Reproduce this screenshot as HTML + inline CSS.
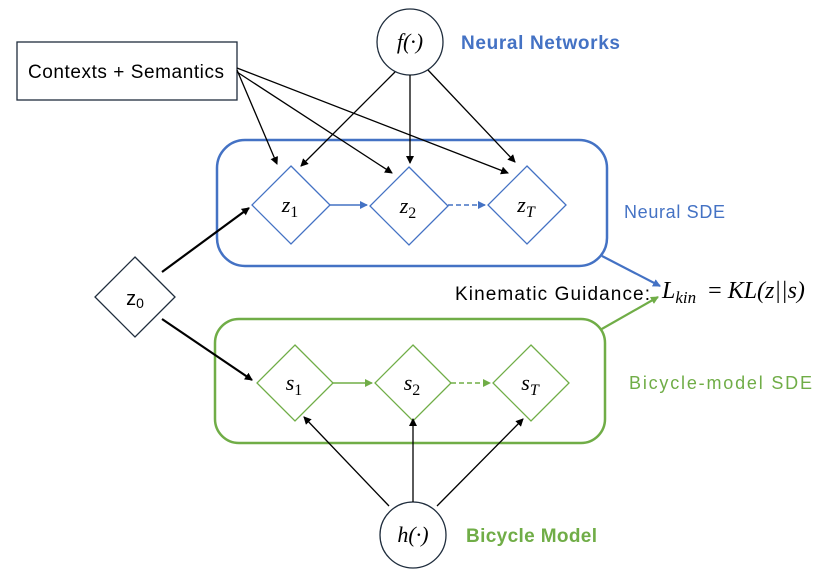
<!DOCTYPE html>
<html><head><style>body{margin:0;background:#fff}svg{display:block}</style></head><body>
<svg width="830" height="575" viewBox="0 0 830 575" xmlns="http://www.w3.org/2000/svg">
<defs>
<marker id="ak" markerWidth="8" markerHeight="8" refX="7" refY="4" orient="auto" markerUnits="userSpaceOnUse"><path d="M0,0 L8,4 L0,8 z" fill="#000"/></marker>
<marker id="ab" markerWidth="8" markerHeight="8" refX="7" refY="4" orient="auto" markerUnits="userSpaceOnUse"><path d="M0,0 L8,4 L0,8 z" fill="#4472c4"/></marker>
<marker id="ag" markerWidth="8" markerHeight="8" refX="7" refY="4" orient="auto" markerUnits="userSpaceOnUse"><path d="M0,0 L8,4 L0,8 z" fill="#70ad47"/></marker>
</defs>
<g font-family="Liberation Sans, sans-serif">
<rect x="217" y="140" width="390" height="126" rx="28" fill="none" stroke="#4472c4" stroke-width="2.5"/>
<rect x="215" y="319" width="390" height="124" rx="24" fill="none" stroke="#70ad47" stroke-width="2.5"/>
<rect x="17" y="42" width="220" height="58" fill="#fff" stroke="#1f2d3d" stroke-width="1.3"/>
<text x="126" y="78" font-size="19" text-anchor="middle" textLength="196">Contexts + Semantics</text>
<circle cx="410" cy="42" r="33" fill="#fff" stroke="#1f2d3d" stroke-width="1.3"/>
<text x="410" y="49" font-size="22" text-anchor="middle" font-family="Liberation Serif, serif" font-style="italic">f(·)</text>
<circle cx="413" cy="535" r="33" fill="#fff" stroke="#1f2d3d" stroke-width="1.3"/>
<text x="413" y="542" font-size="22" text-anchor="middle" font-family="Liberation Serif, serif" font-style="italic">h(·)</text>
<text x="461" y="49" font-size="19" font-weight="bold" fill="#4472c4" textLength="159">Neural Networks</text>
<text x="466" y="542" font-size="19" font-weight="bold" fill="#70ad47" textLength="131">Bicycle Model</text>
<text x="624" y="218" font-size="18" fill="#4472c4" textLength="101">Neural SDE</text>
<text x="629" y="389" font-size="18" fill="#70ad47" textLength="183">Bicycle-model SDE</text>
<g fill="#fff" stroke="#4472c4" stroke-width="1.3">
<path d="M291,166 L330,205 L291,244 L252,205z"/>
<path d="M409,167 L448,206 L409,245 L370,206z"/>
<path d="M527,166 L566,205 L527,244 L488,205z"/>
</g>
<g fill="#fff" stroke="#70ad47" stroke-width="1.3">
<path d="M295,345 L333,383 L295,421 L257,383z"/>
<path d="M413,345 L451,383 L413,421 L375,383z"/>
<path d="M531,345 L569,383 L531,421 L493,383z"/>
</g>
<path d="M135,257 L175,297 L135,337 L95,297z" fill="#fff" stroke="#1f2d3d" stroke-width="1.3"/>
<text x="135" y="305" font-size="20" text-anchor="middle">z<tspan font-size="14" dy="3">0</tspan></text>
<g font-family="Liberation Serif, serif" font-style="italic" font-size="22" text-anchor="middle">
<text x="290" y="212">z<tspan font-size="16" dy="5" font-style="normal">1</tspan></text>
<text x="408" y="213">z<tspan font-size="16" dy="5" font-style="normal">2</tspan></text>
<text x="526" y="212">z<tspan font-size="16" dy="5">T</tspan></text>
<text x="294" y="390">s<tspan font-size="16" dy="5" font-style="normal">1</tspan></text>
<text x="412" y="390">s<tspan font-size="16" dy="5" font-style="normal">2</tspan></text>
<text x="530" y="390">s<tspan font-size="16" dy="5">T</tspan></text>
</g>
<g stroke="#000" stroke-width="1.3" marker-end="url(#ak)">
<line x1="237" y1="70" x2="277" y2="164"/>
<line x1="237" y1="72" x2="392" y2="173"/>
<line x1="237" y1="68" x2="508" y2="173"/>
<line x1="395" y1="72" x2="301" y2="166"/>
<line x1="410" y1="75" x2="410" y2="163"/>
<line x1="428" y1="70" x2="515" y2="162"/>
<line x1="389" y1="506" x2="304" y2="417"/>
<line x1="413" y1="502" x2="413" y2="419"/>
<line x1="437" y1="506" x2="523" y2="419"/>
</g>
<g stroke="#000" stroke-width="2.2" marker-end="url(#ak)">
<line x1="162" y1="272" x2="249" y2="208"/>
<line x1="162" y1="319" x2="252" y2="380"/>
</g>
<line x1="330" y1="205" x2="367" y2="205" stroke="#4472c4" stroke-width="1.5" marker-end="url(#ab)"/>
<line x1="448" y1="205" x2="485" y2="205" stroke="#4472c4" stroke-width="1.5" stroke-dasharray="5,3" marker-end="url(#ab)"/>
<line x1="333" y1="383" x2="372" y2="383" stroke="#70ad47" stroke-width="1.5" marker-end="url(#ag)"/>
<line x1="451" y1="383" x2="490" y2="383" stroke="#70ad47" stroke-width="1.5" stroke-dasharray="5,3" marker-end="url(#ag)"/>
<line x1="602" y1="256" x2="660" y2="286" stroke="#4472c4" stroke-width="2.2" marker-end="url(#ab)"/>
<line x1="600" y1="330" x2="658" y2="297" stroke="#70ad47" stroke-width="2.2" marker-end="url(#ag)"/>
<text x="455" y="300" font-size="19" textLength="195">Kinematic Guidance:</text>
<text x="662" y="298" font-size="24" font-family="Liberation Serif, serif" font-style="italic">L<tspan font-size="17" dy="5">kin</tspan><tspan dy="-5" font-style="normal" dx="12">= </tspan>KL(z||s)</text>
</g>
</svg>
</body></html>
